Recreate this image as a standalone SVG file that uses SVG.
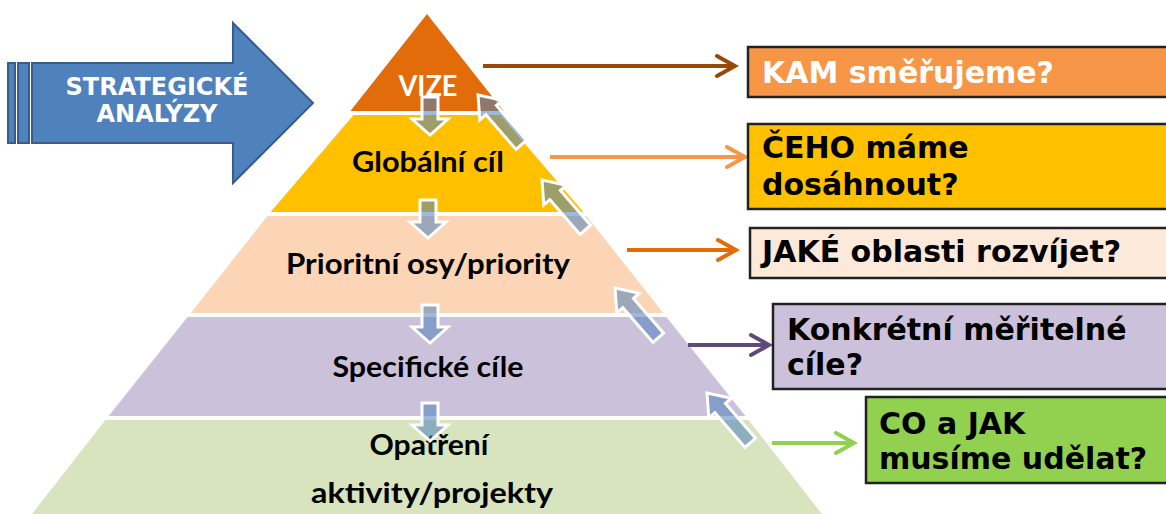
<svg xmlns="http://www.w3.org/2000/svg" width="1166" height="514" viewBox="0 0 1166 514">
<defs>
<style>
.lvl{font-family:Lato,"Open Sans","DejaVu Sans",sans-serif;font-weight:bold;font-size:29px;fill:#000;text-anchor:middle}
.q{font-family:"DejaVu Sans",Verdana,sans-serif;font-weight:bold;font-size:30px;fill:#000}
.box{stroke:#222;stroke-width:2.5}
.flow{fill:#4F81BD;fill-opacity:0.55;stroke:#fff;stroke-width:3;stroke-linejoin:miter}
.conn{fill:none;stroke-width:4}
</style>
<path id="down" d="M-8,0 L8,0 L8,22 L18,22 L0,38 L-18,22 L-8,22 Z"/>
<path id="up" d="M0,0 L15,20 L7,20 L7,66 L-7,66 L-7,20 L-15,20 Z"/>
<marker id="m1" viewBox="-22 -14 26 28" refX="0" refY="0" markerWidth="26" markerHeight="28" markerUnits="userSpaceOnUse" orient="auto"><path d="M-18,-10 L0,0 L-18,10" fill="none" stroke="#984807" stroke-width="4" stroke-linecap="round"/></marker>
<marker id="m2" viewBox="-22 -14 26 28" refX="0" refY="0" markerWidth="26" markerHeight="28" markerUnits="userSpaceOnUse" orient="auto"><path d="M-18,-10 L0,0 L-18,10" fill="none" stroke="#F79646" stroke-width="4" stroke-linecap="round"/></marker>
<marker id="m3" viewBox="-22 -14 26 28" refX="0" refY="0" markerWidth="26" markerHeight="28" markerUnits="userSpaceOnUse" orient="auto"><path d="M-18,-10 L0,0 L-18,10" fill="none" stroke="#E36C0A" stroke-width="4" stroke-linecap="round"/></marker>
<marker id="m4" viewBox="-22 -14 26 28" refX="0" refY="0" markerWidth="26" markerHeight="28" markerUnits="userSpaceOnUse" orient="auto"><path d="M-18,-10 L0,0 L-18,10" fill="none" stroke="#604A7B" stroke-width="4" stroke-linecap="round"/></marker>
<marker id="m5" viewBox="-22 -14 26 28" refX="0" refY="0" markerWidth="26" markerHeight="28" markerUnits="userSpaceOnUse" orient="auto"><path d="M-18,-10 L0,0 L-18,10" fill="none" stroke="#92D050" stroke-width="4" stroke-linecap="round"/></marker>
</defs>
<rect width="1166" height="514" fill="#fff"/>

<g id="strategicke-analyzy">
<rect x="8" y="63" width="7" height="80" fill="#4F81BD" stroke="#385D8A" stroke-width="2"/>
<rect x="18" y="63" width="11" height="80" fill="#4F81BD" stroke="#385D8A" stroke-width="2"/>
<path d="M32,63 L233,63 L233,23 L313,103 L233,183 L233,143 L32,143 Z" fill="#4F81BD" stroke="#385D8A" stroke-width="2"/>
<text x="157" y="95" font-family="'DejaVu Sans',Verdana,sans-serif" font-weight="bold" font-size="24" fill="#fff" text-anchor="middle">STRATEGICKÉ</text>
<text x="157" y="122" font-family="'DejaVu Sans',Verdana,sans-serif" font-weight="bold" font-size="24" fill="#fff" text-anchor="middle">ANALÝZY</text>
</g>

<g id="level-vize">
<path d="M427,14 L503.6,111 L350.4,111 Z" fill="#E36C0A"/>
<text class="lvl" x="428" y="96" style="fill:#fff" textLength="59" lengthAdjust="spacingAndGlyphs">VIZE</text>
</g>
<g id="level-globalni">
<path d="M353.6,115 L500.4,115 L583.4,212 L270.6,212 Z" fill="#FFC000"/>
<text class="lvl" x="428" y="172" textLength="152" lengthAdjust="spacingAndGlyphs">Globální cíl</text>
</g>
<g id="level-prioritni">
<path d="M267.4,216 L586.6,216 L663.2,313 L190.8,313 Z" fill="#FBD5B5"/>
<text class="lvl" x="428" y="274" textLength="284" lengthAdjust="spacingAndGlyphs">Prioritní osy/priority</text>
</g>
<g id="level-specificke">
<path d="M187.6,317 L666.4,317 L745.4,416 L108.6,416 Z" fill="#CCC1DA"/>
<text class="lvl" x="428" y="377" textLength="191" lengthAdjust="spacingAndGlyphs">Specifické cíle</text>
</g>
<g id="level-opatreni">
<path d="M105.4,420 L748.6,420 L822,514 L32,514 Z" fill="#D7E4BD"/>
<text class="lvl" x="429" y="455" textLength="119" lengthAdjust="spacingAndGlyphs">Opatření</text>
<text class="lvl" x="432" y="503" textLength="242" lengthAdjust="spacingAndGlyphs">aktivity/projekty</text>
</g>

<g id="flow-arrows">
<use href="#down" class="flow" x="430" y="97"/>
<use href="#down" class="flow" x="428" y="200"/>
<use href="#down" class="flow" x="430" y="305"/>
<use href="#down" class="flow" x="430" y="403"/>
<use href="#up" class="flow" transform="translate(478,95) rotate(-41)"/>
<use href="#up" class="flow" transform="translate(542,180) rotate(-41)"/>
<use href="#up" class="flow" transform="translate(615,288) rotate(-41)"/>
<use href="#up" class="flow" transform="translate(707,393) rotate(-41)"/>
</g>

<g id="connectors">
<path class="conn" d="M483,66 L735,66" stroke="#984807" marker-end="url(#m1)"/>
<path class="conn" d="M550,157 L745,157" stroke="#F79646" marker-end="url(#m2)"/>
<path class="conn" d="M627,250 L736,250" stroke="#E36C0A" marker-end="url(#m3)"/>
<path class="conn" d="M688,345 L769,345" stroke="#604A7B" marker-end="url(#m4)"/>
<path class="conn" d="M772,443 L854,443" stroke="#92D050" marker-end="url(#m5)"/>
</g>

<g id="q-kam">
<rect class="box" x="748" y="47" width="430" height="50" fill="#F79646"/>
<text class="q" x="762" y="83" style="fill:#fff">KAM směřujeme?</text>
</g>
<g id="q-ceho">
<rect class="box" x="748" y="124" width="430" height="85" fill="#FFC000"/>
<text class="q" x="762" y="158">ČEHO máme</text>
<text class="q" x="762" y="195">dosáhnout?</text>
</g>
<g id="q-jake">
<rect class="box" x="750" y="228" width="430" height="50" fill="#FDE9D9"/>
<text class="q" x="762" y="262">JAKÉ oblasti rozvíjet?</text>
</g>
<g id="q-konkretni">
<rect class="box" x="773" y="304" width="410" height="85" fill="#CCC1DA"/>
<text class="q" x="787" y="340">Konkrétní měřitelné</text>
<text class="q" x="787" y="375">cíle?</text>
</g>
<g id="q-co-jak">
<rect class="box" x="866" y="397" width="320" height="86" fill="#92D050"/>
<text class="q" x="879" y="434">CO a JAK</text>
<text class="q" x="879" y="469">musíme udělat?</text>
</g>
</svg>
